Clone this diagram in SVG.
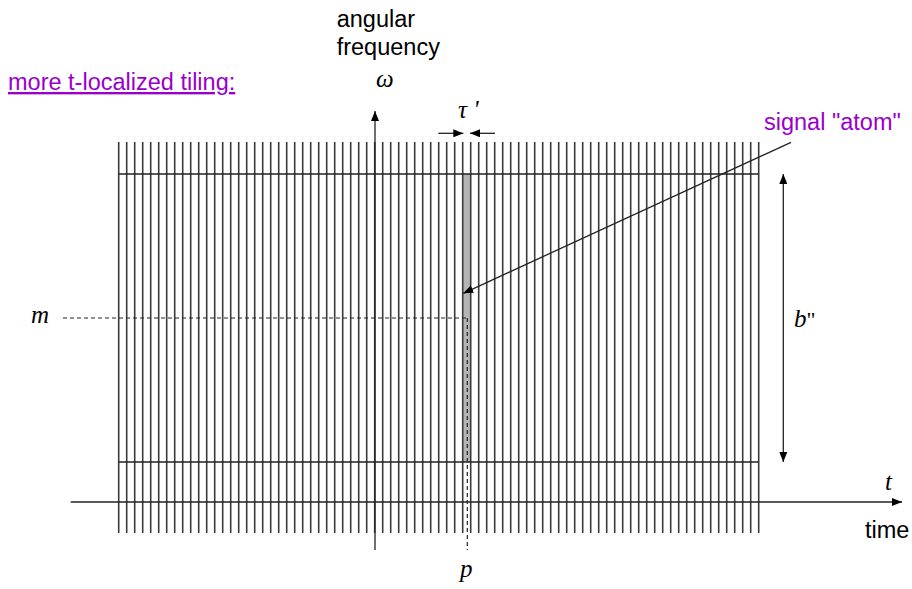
<svg xmlns="http://www.w3.org/2000/svg" width="912" height="589" viewBox="0 0 912 589">
<style>
.sans{font-family:"Liberation Sans",Arial,sans-serif;font-size:23.5px;fill:#000}
.purple{fill:#9900cc}
.math{font-family:"Liberation Serif","Times New Roman",serif;font-style:italic;font-size:25px;fill:#000}
.grid{stroke:#3a3a3a;stroke-width:1.6;fill:none}
.hline{stroke:#222;stroke-width:1.3;fill:none}
.axis{stroke:#222;stroke-width:1.3;fill:none}
.dash{stroke:#222;stroke-width:1.2;stroke-dasharray:4 3;fill:none}
</style>
<defs>
<marker id="ah" viewBox="0 0 10 8" refX="10" refY="4" markerWidth="10" markerHeight="8" markerUnits="userSpaceOnUse" orient="auto">
<path d="M0 0L10 4L0 8z" fill="#000"/>
</marker>
</defs>
<rect width="912" height="589" fill="#fff"/>

<g id="tiling">
<rect x="462.7" y="174" width="8" height="288" fill="#b4b4b4"/>
<path class="grid" d="M118.7 142v391
m8-391v391m8-391v391m8-391v391m8-391v391m8-391v391m8-391v391m8-391v391m8-391v391m8-391v391m8-391v391
m8-391v391m8-391v391m8-391v391m8-391v391m8-391v391m8-391v391m8-391v391m8-391v391m8-391v391m8-391v391
m8-391v391m8-391v391m8-391v391m8-391v391m8-391v391m8-391v391m8-391v391m8-391v391m8-391v391m8-391v391
m8-391v391m8-391v391m8-391v391m8-391v391m8-391v391m8-391v391m8-391v391m8-391v391m8-391v391m8-391v391
m8-391v391m8-391v391m8-391v391m8-391v391m8-391v391m8-391v391m8-391v391m8-391v391m8-391v391m8-391v391
m8-391v391m8-391v391m8-391v391m8-391v391m8-391v391m8-391v391m8-391v391m8-391v391m8-391v391m8-391v391
m8-391v391m8-391v391m8-391v391m8-391v391m8-391v391m8-391v391m8-391v391m8-391v391m8-391v391m8-391v391
m8-391v391m8-391v391m8-391v391m8-391v391m8-391v391m8-391v391m8-391v391m8-391v391m8-391v391m8-391v391"/>
<path class="hline" d="M118.7 174H758.7M118.7 462H758.7"/>
</g>

<g id="connectors">
<line class="axis" x1="70.7" y1="502" x2="902" y2="502" marker-end="url(#ah)"/>
<line class="axis" x1="375" y1="550" x2="375" y2="111" marker-end="url(#ah)"/>
<line class="dash" x1="63" y1="318" x2="467.3" y2="318"/>
<line class="dash" x1="467.3" y1="318" x2="467.3" y2="550"/>
<line class="axis" x1="783.3" y1="318" x2="783.3" y2="174" marker-end="url(#ah)"/>
<line class="axis" x1="783.3" y1="318" x2="783.3" y2="462" marker-end="url(#ah)"/>
<line class="axis" x1="438.3" y1="133.3" x2="463.3" y2="133.3" marker-end="url(#ah)"/>
<line class="axis" x1="495" y1="133.3" x2="470" y2="133.3" marker-end="url(#ah)"/>
<line class="axis" x1="791" y1="142.3" x2="463.3" y2="293.3" marker-end="url(#ah)"/>
</g>

<g id="labels">
<text class="sans purple" x="8" y="90" font-size="24.3" text-decoration="underline">more t-localized tiling:</text>
<text class="sans" x="336.7" y="26.5">angular</text>
<text class="sans" x="336.7" y="54.5">frequency</text>
<text class="math" x="376" y="87">ω</text>
<text class="math" x="458" y="118">τ '</text>
<text class="sans purple" x="764" y="130">signal "atom"</text>
<text class="math" x="31" y="323">m</text>
<text class="math" x="794" y="327">b<tspan font-style="normal" font-size="22">"</tspan></text>
<text class="math" x="885" y="490">t</text>
<text class="sans" x="865" y="538">time</text>
<text class="math" x="460" y="577">p</text>
</g>
</svg>
